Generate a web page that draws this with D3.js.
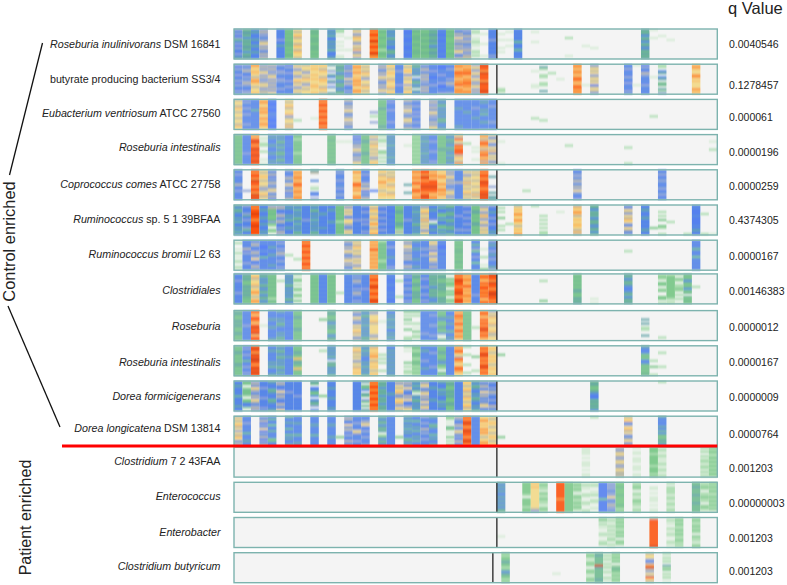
<!DOCTYPE html>
<html>
<head>
<meta charset="utf-8">
<script src="https://cdn.jsdelivr.net/npm/d3@7/dist/d3.min.js"></script>
<style>
  html, body { margin: 0; background: #fff; }
  text { font-family: "Liberation Sans", Arial, sans-serif; fill: #222; }
</style>
</head>
<body>
<svg id="chart" width="787" height="585"></svg>
<script>
// species, split in the italic and the upright part of the name
const italicNames = ['Roseburia inulinivorans', '', 'Eubacterium ventriosum', 'Roseburia intestinalis', 'Coprococcus comes',
  'Ruminococcus', 'Ruminococcus bromii', 'Clostridiales', 'Roseburia', 'Roseburia intestinalis', 'Dorea formicigenerans',
  'Dorea longicatena', 'Clostridium', 'Enterococcus', 'Enterobacter', 'Clostridium butyricum'];
const plainNames = ['DSM 16841', 'butyrate producing bacterium SS3/4', 'ATCC 27560', '', 'ATCC 27758',
  'sp. 5 1 39BFAA', 'L2 63', '', '', '', '', 'DSM 13814', '7 2 43FAA', '', '', ''];
const qValues = ['0.0040546', '0.1278457', '0.000061', '0.0000196', '0.0000259', '0.4374305', '0.0000167', '0.00146383',
  '0.0000012', '0.0000167', '0.0000009', '0.0000764', '0.001203', '0.00000003', '0.001203', '0.001203'];

// abundance classes, lowest to highest
const levels = ['a', 'b', 'c', 'd', 'e', 'f', 'g', 'h', 'i', 'j', 'k', 'l', 'm', 'n', 'o'];
const levelColors = ['#d5ebd5', '#a9dcae', '#7cc88a', '#70ba90', '#64a5a8', '#5c8ee0', '#5480ee', '#4673fa',
  '#8ea4d6', '#b9b8a4', '#f2d988', '#f8bf68', '#fb9138', '#fc5210', '#d83c10'];

// one token per sample, read top to bottom; "." is an empty sample, "33:" jumps to sample 33
const p01 = `ifigidfigifgife deedfdedeedfdee fefgfegfefgefgf ijiifijkijifjij . gfgfgigfegfgfgf dcdcdcdddcdcddc kjkljkkjlkjlkkj .
  dddcdddcdddcdcd . fefdgfefefdfgfe bb.a..a.a.a..aa ....a.....a.... jkijlkjikjlijki . nmnnmnomnnmnomm cdccdcccdcbcdcc efefdefefgedefe .
  gggfgggfgggfggf ddcdddcddcdddcd dcddcddcddcddcd edeedeedfedeede gfggfggfgfggfgg cdcdcccdcdccdcd ifjikijfjijkifj iifjiijfiijiijj
  aba.aabaa.abab. ..a....a.....a. gfgfgifgfgfgfif
  ..a..a...a.a... .a...a..a...... gfgfgfdfgfdfgfg 35:.a....a........ 39:....b........a. 41:........a...... .........a.....
  48:edefdefdefedede a...a.......... ...a........... .....a.........`;
const p02 = `igifgigfigifgif ifijfgifijifgii mlkllkjlmlkjkkl ijijkijiijkjijj jijiijkijijijik ifgiifgiifgfigf gifgigfgigfigfg jkijkjikljkijkj
  jkkjikjlkjikjkk lklkklklkkllkkl lkjlkkjllkkjlkj e.ai.ef.ei.fa.e deedfeddfedefed fifjgifkfjigfif lmllmkllmlmklml kjkjlkjikkjlkjk .
  ijifjikjifjijki lkjklkkjlkkljkl gfgifgfgfgigfgf kjklkfkjkkikjkl edfefe.fedfe.ef ifjifjijiifjijf gfgigfhgfgifgfg ghgfgigfgighfgi
  fgifgfgifjifgfi mmlmnmmlmmnlmmm mlmmnmlmmnmmlmm ikjikjikjijkiji onnmonnnmonnnon .
  ............bba 35:...a......aa... .eb..bb..bb..e. ....b.......... .......a....... 40:mmlmmlmnmlmnmmm ..........a.... ijkjkijkjkgjkji
  46:gfigfgifgigfgif a.........a.... gifgjifgfgifgfg ......a........ bb.fe.fe.dd.ebi 54:lmlkkmmklkkkmll`;
const p03 = `jkkjlkjkkjkkjlk gifgifgifgfgifg gfgfgdgfgfgfgfg lmlkmlmlkmllmlk gghgghgfgghgghg . kjkljkklijkkjlj ..........b.... .
  .........a..... nmnnmnnmnnmnnmn . . jifjikjfijkijfi . . ......i.b..i... dcdcedcdcdcdced gigfgigfgfgigfg . jifjikjifjkjifj ifgifgigifgifgi .
  ijiijfkjiifjijk efedfefefedeffe . fgfgefgfgfgfgef gfgfgfefgfgfgfg gfgfigfgfegfgfg fefgfefdfgfefgf gfgifgfgfgfifgf
  35:.........b..... ..........b.... 49:........b......`;
const p04 = `dcdcdcdcdcdcdcd gfgfgfgfgigfgfg mlnonmnonnonnon .aa.bb..b...a.a fefgfefgfefgfef fefdefdfedefdef gggfgfgggfgggfg dcbdcdcdcbdcdcd . . .
  dcddcdcdcdcdcdd ...a........... ...a........... gigifjikjifjijk dcdedcdcdedcdcd jkikjlkjkjkijkl b.bb.a..cb.b.b. fefefdfefefdfef .
  .....a......... cbcbcbcbcbcbcbc fefdfefefdfefef gfgifgfgifgfgif dcdcdcdedcdcdcd efdeefdeefdfeef ljnkjnmnnnjlkjm ....b.......... ......a.a...a..
  mljmnmljmmnlmjm kfjkifkjlfkjkfj
  31:...a..........a 39:.....b......... 46:......b.......b 56:...a...b.......`;
const p05 = `gfigfgfjfgifgfg ..........i.... nmnnmonnmnnmono kjklkjkkjijkljk ifjgifjifjkifjg . ifgijfikifjgifj lmlmmlmnmlmmlmm . ej...f..ab.fg.i . .
  fifgfigffigfifg . lmkllkmnmlmklmm gfigfgijfkgifij ..........g.... lkjlklmklkjklkk kjkjllkjlkkjlkk . .......e...e... mmlmmlnmlmnmlmm
  nnmonmnnonnmnon mlmmlnnnonnmlmm lklmlklmkmmlmkl ijikjijifijkjij gfgfgfjgfgfgfgf jkijkjljkjkljkj jkjkkjkkjkkjljk nmnnmnonnmnnono ...e....i..e.ee
  34:..........b.... 40:gfiifjifjikifgi 50:gfigfifgfigfigf`;
const p06 = `efdefgefdgfefdf ifgfiegifgfidfg nmnnonnmnnonnnn gfefgfefgefgfef ijdcdccdicb.cb. ijfgijfijfgifji fefgfefdfgfefgf efdfefdefdfefde
  gfgfgfgifgfgfgf efdefefdfefefde gfgfefgfgfgegfg gfefgfgfefgfgfg dcdcdcdcbdcdcdc jikjkifkkjifjkj gfgfgfgifgfgfgf ifgifgfigifgfig
  kjlkjkljkmkjlkm ifgifgifgifgifg gfggfggfgfggfgf dcdedcdcdedcbjb gfgfgfgifgfgfgf fefdfefefdefefd ijkljkjljkjkijk gfefgfgi.dgfefg
  fdgfdcfdgfdcfdf defedefdefedefd gfgfgigfgfgfifg ifgifgifgifgifg dcdedcdcdedcdcd ijkijljikjikjkj ifgefgifgifgfef
  .b.b..c...b.b.. .........b..... jklkmlkmlkjklkm 35:b.............. .....b.b.b.b.bb 38:...a........... 40:jlkmljklkllkjlj 42:defdedfedefedfd
  46:ifkjikjlkifkjfi 48:gfefgfefgfgfefg ...........c... ...b.b.c..cb..b ........b...... 53:..............b gfgggfggggfgefg ....b.........b ..............a`;
const p07 = `.b..a.b.a.ba.ba gfgfjgifgfgifgf fijfgijfikfgijf gfghgfghdfgfgfg gfgefgfefgfgefg gifgifjifgifgif .......b....... .........b.....
  nmnnmnnmnnmnnmn . . . . jifjikjfijkijfi jkjlkjkjikjkijk . mlmlnmlmlmlmlml bcdcdcdcdcbcdcd gfgifgfgefgfgif . jijkijfjijfgijf efgfefgfgefgfeg
  gfgfifgifgfgfgf jkjijgkjikjifjg gfghgfggfgfgfgf . dcdcdddcdcddcdc . gfdgicfgigfcgfg ....a...b...a.c ifefgifegifgfei
  46:.....b......... 54:gfgfdfgfcgfgfgf`;
const p08 = `gfgigfgfgifgfgf ededcdedededdcd kljkkljklmkjkml edfefdefedfedfe dcdcdcdcdcdcbdc ...b........... fefefdefefefdef b.bc.b.cb.cb.c. .
  dcdcdcdcdcdcdcd gfgfgfgfgfgfgfg cdcdcdcdcdcdcdc .........b..... gfgfgfgfgfgfgfg fifjifgifjifgif gfgfgfgigfgfgfg nmnnmnonmnnmnon .
  gfgggfgggfgfggg ...b.......b... gifgigfifgifgif dedcdedcdededcd gfigfgifgfigfig edededfededeffe dedcdededdcdede a.cbccb.cbc.bcb
  nmnonnmnnonmnon mlmmlmnlmlmmlml fgfgfgfgfgifgfg mnmlnmnnmnmnlmn onnmonnmnoonnmn
  36:...b.........c. 40:cdcdcdcdedcdede 42:............a.a 46:edfedefgfedfede 50:bcb.cc.bc..cc.b bcccccccccccbab b.cb.bbcb.b.b.a dcdfdcdfcd.dcdc ......b........`;
const p09 = `dedcdededcdedcd gfgfgfgifgfgfgf nmlnnmlnonnolnn .......a....... gfgfefgfefgfgfe efgfefdefgfefde gfgggfgfggfgfgg dcdedcdcdedcdcd . .
  ....c.......... dedcdefdedcdfed . . jifkjifkjkljkfj efdefefdfefefde jikkkljkkkkkijk .....a......... gfefdfefdgfefdf . c.b.c.b..c...bb
  c.b...b.a.c.bb. gfgfgfgfgfgifgf gfigfgfifgfgifg dcdefdcdedcfa.d fgfefgefgfdfgef mlnmmlnmlmnlmmk dcdcdcdcdcdcdcd ........b...... mnmlnmnmnonmnml ikjlkkljkkljjkk
  48:....e.e.bb..e.. 50:.............b.`;
const p10 = `dcdedcdcdedcdcd gifgifgdfgifgif nonmonoonmnonon . gfefgfgfefdfgfe efdefdefefdefdf gfgfgefgfgfgfgf dcdedcldedcldcd . . ..b............
  fefefdf.edefefd . . jkljkjkijkjlklk efdfefgfefdfefd jlkllmkjlklkjkl ....b.b.b...b.. gfefefefefefefe . b.a.....c.b.bba dcbcdcbcdcbcbcb
  gfefgfgifgfegfg gfgifgfgfgifgfg dcdedcdefdcb.dc gfgfgfgfgfgfgfg mlnmkjnmlkmnmlk b...b....b...b. .....c......b.. mnmnonmnmnonmnm klkjklklkjklkkl
  31:....c.......... 48:efgfcdcgfdcdcdd .......b..c...b ...b......b....`;
const p11 = `gfefgfgdfgfgefg dc.bdcdb.cdgfb. ijfkjifjikjfiji gfgifgfgifgfgif efgfdefgfdefgfe ijfgikfjifgjifk gfgfgifgfgfgfgf gfgfgfgifgfgfgf .
  ed.gfdcf.fedi.f .......c....... gfgefgfgefgfgef . . gfgfgfgfgfgfgfg e.dcf.ed.ic.d.e nmnnmnnmnnmnnmn dedfdedfdedfded gfgfgfefgfgfgfg
  jikjkljfjkljikj ijfkifgjikfgijk efdfeb.efdefefd ijkifjkijfkijkf fgfefgfgfefgfgf efgfdfefgfdfefg dedcdededcdedcd gfgfgfgfgfgfgfg lkjkljkjlkjkljk
  efdefgefdefgefd ifjifkijfifjkif ifgifjifgifgjif
  42:dedcdefggdededf 50:b..............`;
const p12 = `jkjkljkikjlkfji gfgifgfgdfgfefg . ifjgifkgifjgifj gdfgcfgdgfgcdfg . dgfegfdgfdfegfd gfgefgfgfdfgfef . gfgfefgfgdfgfgf . gfgfefgfgfefgfg
  ..........c.... ijfgkfjigifgjfi gfgifgfkjgfgifg gfijkfgifgifgfi . dfedfede.bdfdef gfgfgfgfgfgfgfg ..........c.... efdgefdfegfdefd
  gfdfgefdgfefdgf ifgifgjfifgifgf efgfdefgfdfegfd . cb.a.dc.a.c.b.c jifgjifkjfigjif nmnonmnonnmnonm gfgfgfgfgfgfgfg klmklkmlmkjklml kjklkjkkjklkjkl
  31:..........c.... 42:b.............. 46:jklfikljkifjkfj 50:egfgfegdfdcdedg`;
const p13 = `41:aaaa.a.aaa.a.aa 45:jijkjijkjijkjjj 47:a.aa.aaa.aaa.aa 49:cccbcccccbcccbc abaabaaabaabaab 55:bab.babbabbabab cbcbbcbcbcbcbcb`;
const p14 = `31:efefeffefefefed 34:ccccccb.ccccbcc lklkkkkkkkkkkji bcbbacbbcbbabcb 38:nnnnnnnnmnnnnnn ccccccccccccccc bcbcb.bcbbcbcba abaa.aba.aba.ab
  aba.aab.aba.aa. ggggggggcgggggg iiiifiikifijiif ccdcccdccccdcbc 47:bbcb.bbabcbbabb 49:..aa.a.aaa.a.aa 51:b.bbbbabbabbabb 54:ddedddedddedddd bbcb.bbcbb.bcba cbcbcbbcbcbcbca`;
const p15 = `31:.........a..... 43:bcabaa.aba.abb. abaababababb.ba cbcbcbbcbc.bcb. 49:jnnnnnnnnnnnnno 51:abaa.baaba.abaa bcbcbbcbcbbcbbb 54:bcbbcbcb.cbbabc`;
const p16 = `32:cbccedcbcfedcbc 38:..........a.... 42:bcbabcb.bcbabcb deddddoeddddded abab.bab.ba.baa cbcbc.bddcbcbcb 49:jkkigjmojikjnkj 51:b.bab.ebc.bab.a`;
const panelData = [p01, p02, p03, p04, p05, p06, p07, p08, p09, p10, p11, p12, p13, p14, p15, p16];

const svg = d3.select('#chart');
const boxRight = 717.3;
const sampleCount = 57;
const splitAfter = 31; // control samples left of the black rule, patients right of it

// the figure was pasted together: a few panels sit slightly off the regular pitch
const panelNudge = i => (i >= 12 ? -4.3 : i === 7 ? -1.5 : 0);
const sampleNudge = i => (i === 15 ? -4 : 0);
const labelNudge = [0, 0, -1, -2.5, -1, -1, -1, 1, 0, 1, 0, -3, -1, -1, 0, -2];
const qNudge = [1, 6.5, 3.5, 3, 2, 1, 1, 3, 2, 2, 1.5, 3, 6, 6, 6, 4];

const x = d3.scaleBand().domain(d3.range(sampleCount)).range([234, boxRight]);
const y = d3.scaleBand().domain(d3.range(panelData.length)).range([29, 29 + 16 * 35.2 - 5.2]).paddingInner(0.148);
const color = d3.scaleOrdinal(levels, levelColors);

function parseColumns(text) {
  let col = 0;
  const cols = [];
  text.trim().split(/\s+/).forEach(tok => {
    const parts = tok.split(':');
    if (parts.length > 1) col = +parts[0];
    cols.push({ col, cells: parts[parts.length - 1] });
    col++;
  });
  return cols;
}

svg.append('defs').append('filter').attr('id', 'soft')
  .attr('filterUnits', 'userSpaceOnUse')
  .attr('x', 228).attr('y', -1).attr('width', 495).attr('height', 32)
  .append('feGaussianBlur').attr('stdDeviation', '0.5 0.9');

const panels = svg.selectAll('g.panel')
  .data(panelData)
  .join('g')
  .attr('class', 'panel')
  .attr('transform', (d, i) => `translate(0,${y(i) + panelNudge(i)})`);

panels.append('rect')
  .attr('x', 234)
  .attr('width', boxRight - 234)
  .attr('height', y.bandwidth())
  .attr('fill', '#f4f4f4');

panels.append('g')
  .attr('filter', 'url(#soft)')
  .each(function (d, i) {
    const cells = parseColumns(d).flatMap(({ col, cells }) => {
      const rowY = d3.scaleLinear().domain([0, cells.length]).range([0, y.bandwidth()]);
      return Array.from(cells, (c, r) => ({ col, c, y0: rowY(r), y1: rowY(r + 1) })).filter(e => e.c !== '.');
    });
    d3.select(this).selectAll('rect')
      .data(cells)
      .join('rect')
      .attr('x', e => x(e.col) + sampleNudge(i))
      .attr('y', e => e.y0)
      .attr('width', x.bandwidth())
      .attr('height', e => e.y1 - e.y0)
      .attr('fill', e => color(e.c));
  });

panels.append('line')
  .attr('x1', (d, i) => x(splitAfter) + sampleNudge(i))
  .attr('x2', (d, i) => x(splitAfter) + sampleNudge(i))
  .attr('y1', 0)
  .attr('y2', y.bandwidth())
  .attr('stroke', '#333')
  .attr('stroke-width', 1.4);

panels.append('rect')
  .attr('x', 234)
  .attr('width', boxRight - 234)
  .attr('height', y.bandwidth())
  .attr('fill', 'none')
  .attr('stroke', '#7db3ae')
  .attr('stroke-width', 1.4);

const names = panels.append('text')
  .attr('x', 220.5)
  .attr('y', (d, i) => y.bandwidth() / 2 + 4 + labelNudge[i])
  .attr('text-anchor', 'end')
  .attr('font-size', 10.7);
names.append('tspan')
  .attr('font-style', 'italic')
  .text((d, i) => italicNames[i]);
names.append('tspan')
  .text((d, i) => (italicNames[i] && plainNames[i] ? ' ' : '') + plainNames[i]);

panels.append('text')
  .attr('x', 729)
  .attr('y', (d, i) => y.bandwidth() / 2 + 3.5 + qNudge[i])
  .attr('font-size', 10.5)
  .text((d, i) => qValues[i]);

svg.append('text')
  .attr('x', 728)
  .attr('y', 14)
  .attr('font-size', 16.5)
  .text('q Value');

svg.append('line')
  .attr('x1', 62).attr('x2', boxRight).attr('y1', 446).attr('y2', 446)
  .attr('stroke', '#f00').attr('stroke-width', 2.8);

// brackets that tie the control group to its title
svg.selectAll('line.bracket')
  .data([[42.5, 43, 9.5, 175], [8, 306, 60, 427]])
  .join('line')
  .attr('class', 'bracket')
  .attr('x1', d => d[0]).attr('y1', d => d[1])
  .attr('x2', d => d[2]).attr('y2', d => d[3])
  .attr('stroke', '#111')
  .attr('stroke-width', 1.3);

svg.selectAll('text.group')
  .data([['Control enriched', 15, 241.5, 16.4], ['Patient enriched', 31, 517.5, 16]])
  .join('text')
  .attr('class', 'group')
  .attr('transform', d => `translate(${d[1]},${d[2]}) rotate(-90)`)
  .attr('text-anchor', 'middle')
  .attr('font-size', d => d[3])
  .text(d => d[0]);
</script>
</body>
</html>
